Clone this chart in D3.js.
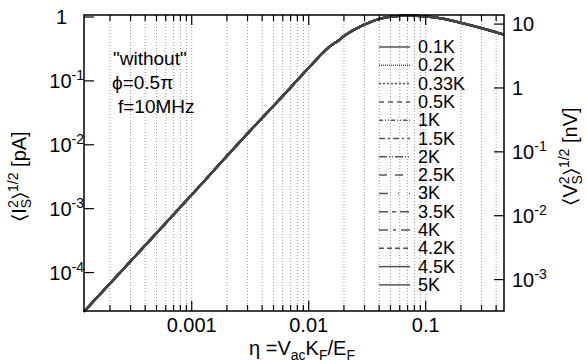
<!DOCTYPE html>
<html>
<head>
<meta charset="utf-8">
<script src="https://cdn.jsdelivr.net/npm/d3@7"></script>
<style>
  body { margin: 0; background: #fff; }
  svg text { font-family: "Liberation Sans", Arial, sans-serif; fill: #000; }
</style>
</head>
<body>
<div id="chart"></div>
<script>
// Data (all temperatures give the same curve)
const temps = ["0.1K", "0.2K", "0.33K", "0.5K", "1K", "1.5K", "2K", "2.5K", "3K", "3.5K", "4K", "4.2K", "4.5K", "5K"];
const eta = [1.2e-4, 3e-4, 1e-3, 3e-3, 0.006, 0.01, 0.015, 0.0183, 0.02, 0.03, 0.04, 0.05, 0.07, 0.1, 0.15, 0.2, 0.3, 0.467];
const current = [2.45e-5, 1.5e-4, 1.65e-3, 1.5e-2, 0.058, 0.16, 0.34, 0.44, 0.5, 0.76, 0.93, 1.01, 1.05, 1.02, 0.92, 0.81, 0.67, 0.53];
const xTicks = [0.001, 0.01, 0.1];
const yLeftTicks = [1, 0.1, 0.01, 0.001, 0.0001];
const yRightTicks = [10, 1, 0.1, 0.01, 0.001];
const voltPerCurrent = 12.9; // nV per pA
const notes = ["\"without\"", "\u03D5=0.5\u03C0", "f=10MHz"];

// dash patterns, one per temperature
const dashes = ["", "1,1", "2,2", "5,4", "4,2,1,2,1,2", "6,3,2,3", "8,2,1,2,1,2", "8,8", "9,10,1,10", "9,4,4,4", "9,5,3,5", "5,3", "", ""];

const width = 587, height = 364;
const margin = {top: 15, right: 83, bottom: 53, left: 84};
const plotW = width - margin.left - margin.right,
      plotH = height - margin.top - margin.bottom;

const svg = d3.select("#chart").append("svg")
    .attr("width", width)
    .attr("height", height);

const x = d3.scaleLog().domain([1.2e-4, 0.467]).range([margin.left, margin.left + plotW]);
const y = d3.scaleLog().domain([2.5e-5, 1.075]).range([margin.top + plotH, margin.top]);
const yR = d3.scaleLog()
    .domain(y.domain().map(v => v * voltPerCurrent))
    .range(y.range());

const x0 = margin.left, x1 = margin.left + plotW, y0 = margin.top + plotH, y1 = margin.top;

// minor positions along x
const allX = [];
for (let e = -4; e <= -1; e++) {
  for (let m = 1; m <= 9; m++) {
    const v = m * Math.pow(10, e);
    if (v > x.domain()[0] && v < x.domain()[1]) allX.push(v);
  }
}

// dotted vertical grid
svg.append("g").selectAll("line")
  .data(allX)
  .join("line")
    .attr("x1", d => x(d)).attr("x2", d => x(d))
    .attr("y1", y1).attr("y2", y0)
    .attr("stroke", "#999")
    .attr("stroke-width", 1)
    .attr("stroke-dasharray", "1,2");

// curves
const line = d3.line()
    .x((d, i) => x(eta[i]))
    .y(d => y(d))
    .curve(d3.curveMonotoneX);

svg.append("g").selectAll("path")
  .data(temps)
  .join("path")
    .attr("d", () => line(current))
    .attr("fill", "none")
    .attr("stroke", "#444")
    .attr("stroke-width", 2.2)
    .attr("stroke-dasharray", (d, i) => dashes[i]);

// frame
svg.append("rect")
    .attr("x", x0).attr("y", y1)
    .attr("width", plotW).attr("height", plotH)
    .attr("fill", "none")
    .attr("stroke", "#000")
    .attr("stroke-width", 1.5);

// x ticks, top and bottom, pointing in
const isMajor = v => xTicks.some(t => Math.abs(t - v) / t < 1e-6);
const xt = svg.append("g").attr("stroke", "#000").attr("stroke-width", 1.2);
allX.forEach(v => {
  const len = isMajor(v) ? 10 : 6;
  xt.append("line").attr("x1", x(v)).attr("x2", x(v)).attr("y1", y0).attr("y2", y0 - len);
  xt.append("line").attr("x1", x(v)).attr("x2", x(v)).attr("y1", y1).attr("y2", y1 + len);
});

svg.append("g").selectAll("text")
  .data(xTicks)
  .join("text")
    .attr("x", d => x(d))
    .attr("y", 332)
    .attr("text-anchor", "middle")
    .style("font-size", "20px")
    .text(d => d3.format("")(d));

// y ticks
yLeftTicks.forEach(v => {
  xt.append("line").attr("x1", x0).attr("x2", x0 + 10).attr("y1", y(v)).attr("y2", y(v));
});
yRightTicks.forEach(v => {
  xt.append("line").attr("x1", x1 - 10).attr("x2", x1).attr("y1", yR(v)).attr("y2", yR(v));
});

function powLabel(sel, v, anchorX, anchor) {
  const e = Math.round(Math.log10(v));
  if (e === 0 || e === 1) {
    sel.append("text")
      .attr("x", anchorX).attr("text-anchor", anchor)
      .style("font-size", "20px")
      .text(e === 0 ? "1" : "10");
  } else {
    const t = sel.append("text").attr("x", anchorX).attr("text-anchor", anchor).style("font-size", "20px");
    t.append("tspan").text("10");
    t.append("tspan").attr("dy", -8).style("font-size", "14px").text(e);
  }
}

const leftLab = svg.append("g");
yLeftTicks.forEach(v => {
  const g = leftLab.append("g").attr("transform", `translate(0,${y(v) + 7})`);
  const e = Math.round(Math.log10(v));
  powLabel(g, v, e === 0 ? 67 : 84, "end");
});

const rightLab = svg.append("g");
yRightTicks.forEach(v => {
  const g = rightLab.append("g").attr("transform", `translate(0,${yR(v) + 7})`);
  powLabel(g, v, 512, "start");
});

// axis titles
function braTitle(sel, letter, unit) {
  const t = sel.append("text").attr("text-anchor", "middle").style("font-size", "20px");
  t.append("tspan").text("\u2329" + letter);
  t.append("tspan").attr("dy", -8).style("font-size", "14px").text("2");
  t.append("tspan").attr("dx", -8).attr("dy", 13).style("font-size", "14px").text("S");
  t.append("tspan").attr("dy", -5).text("\u232A");
  t.append("tspan").attr("dy", -8).style("font-size", "14px").text("1/2");
  t.append("tspan").attr("dy", 8).text("  [" + unit + "]");
}
braTitle(svg.append("g").attr("transform", "translate(26,176) rotate(-90)"), "I", "pA");
braTitle(svg.append("g").attr("transform", "translate(577,156) rotate(-90)"), "V", "nV");

const xt2 = svg.append("text").attr("x", 302).attr("y", 355).attr("text-anchor", "middle").style("font-size", "20px");
xt2.append("tspan").text("\u03B7 =V");
xt2.append("tspan").attr("dy", 5).style("font-size", "14px").text("ac");
xt2.append("tspan").attr("dy", -5).text("K");
xt2.append("tspan").attr("dy", 5).style("font-size", "14px").text("F");
xt2.append("tspan").attr("dy", -5).text("/E");
xt2.append("tspan").attr("dy", 5).style("font-size", "14px").text("F");

// annotation
const noteX = [113, 112, 118];
svg.append("g").selectAll("text")
  .data(notes)
  .join("text")
    .attr("x", (d, i) => noteX[i])
    .attr("y", (d, i) => 65 + i * 24)
    .style("font-size", "19px")
    .text(d => d);

// legend
const legend = svg.append("g");
temps.forEach((t, i) => {
  const ly = 47 + i * 18.3;
  legend.append("line")
    .attr("x1", 379).attr("x2", 410)
    .attr("y1", ly).attr("y2", ly)
    .attr("stroke", "#555")
    .attr("stroke-width", 1.5)
    .attr("stroke-dasharray", dashes[i]);
  legend.append("text")
    .attr("x", 418).attr("y", ly + 6)
    .style("font-size", "18px")
    .text(t);
});
</script>
</body>
</html>
